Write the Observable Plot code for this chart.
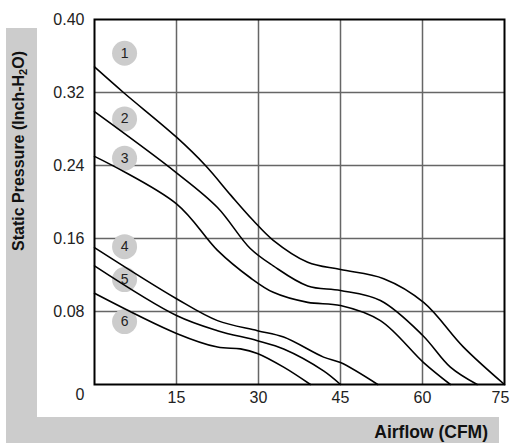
<!DOCTYPE html>
<html>
<head>
<meta charset="utf-8">
<script src="https://cdn.jsdelivr.net/npm/d3@7"></script>
<script src="https://cdn.jsdelivr.net/npm/@observablehq/plot@0.6"></script>
<style>
  html, body { margin: 0; padding: 0; background: #fff; }
  #wrap { position: relative; width: 510px; height: 444px; font-family: "Liberation Sans", Arial, sans-serif; overflow: hidden; }
  .band { position: absolute; background: #cccccc; }
  #chart { position: absolute; left: 0; top: 0; }
  #ytitle { position: absolute; left: 20px; top: 151px; transform: translate(-50%, -50%) rotate(-90deg); white-space: nowrap; font-weight: bold; font-size: 16px; line-height: 1; color: #111; }
  #xtitle { position: absolute; right: 22px; top: 423px; white-space: nowrap; font-weight: bold; font-size: 17.5px; line-height: 1.1; color: #111; }
</style>
</head>
<body>
<div id="wrap">
  <div class="band" style="left:6px; top:28px; width:31px; height:415px;"></div>
  <div class="band" style="left:6px; top:417px; width:493px; height:26px;"></div>
  <div id="chart"></div>
  <div id="ytitle">Static Pressure (Inch-H<sub style="font-size:11px; vertical-align:-3px">2</sub>O)</div>
  <div id="xtitle">Airflow (CFM)</div>
</div>
<script>
const xTicks = [15, 30, 45, 60];
const xLastTick = [75];
const yTicks = [0.08, 0.16, 0.24, 0.32, 0.40];

const airflow1 = [0, 5.3, 15, 20.3, 25, 29, 32.7, 39, 45, 52.9, 60.2, 67.5, 75];
const pressure1 = [0.348, 0.320, 0.271, 0.240, 0.207, 0.180, 0.158, 0.134, 0.126, 0.116, 0.090, 0.041, 0];
const airflow2 = [0, 15, 22.5, 28.5, 32.7, 39, 45, 52.3, 60, 65.1, 70];
const pressure2 = [0.299, 0.232, 0.194, 0.149, 0.130, 0.108, 0.103, 0.092, 0.054, 0.019, 0];
const airflow3 = [0, 15, 22.5, 28.5, 32.7, 39, 45, 52.3, 60.2, 65.1];
const pressure3 = [0.250, 0.198, 0.147, 0.117, 0.101, 0.090, 0.0866, 0.070, 0.024, 0];
const airflow4 = [0, 15, 22.5, 29.8, 34.6, 41.9, 45, 51.8];
const pressure4 = [0.150, 0.094, 0.070, 0.059, 0.052, 0.030, 0.024, 0];
const airflow5 = [0, 15, 22.5, 29.8, 34.6, 41.9, 45];
const pressure5 = [0.130, 0.0756, 0.059, 0.048, 0.039, 0.015, 0];
const airflow6 = [0, 15, 22.5, 26.7, 29.8, 34.6, 39.5];
const pressure6 = [0.100, 0.056, 0.041, 0.039, 0.034, 0.019, 0];

const labelNames = ["1", "2", "3", "4", "5", "6"];
const labelX = [5.5, 5.5, 5.5, 5.5, 5.5, 5.5];
const labelY = [0.363, 0.291, 0.248, 0.151, 0.115, 0.069];

const seriesX = [airflow1, airflow2, airflow3, airflow4, airflow5, airflow6];
const seriesY = [pressure1, pressure2, pressure3, pressure4, pressure5, pressure6];
const curves = seriesX.flatMap((xs, i) => xs.map((x, j) => ({series: labelNames[i], x, y: seriesY[i][j]})));
const labels = labelNames.map((name, i) => ({name, x: labelX[i], y: labelY[i]}));

const plot = Plot.plot({
  width: 510,
  height: 444,
  marginLeft: 94,
  marginRight: 6,
  marginTop: 19,
  marginBottom: 60,
  style: {background: "transparent", fontFamily: "Liberation Sans, Arial, sans-serif", fontSize: "16px", color: "#222", overflow: "visible"},
  x: {domain: [0, 75]},
  y: {domain: [0, 0.40]},
  marks: [
    Plot.rect([0], {x1: 0, x2: 75, y1: 0, y2: 0.40, fill: "white"}),
    Plot.gridX([15, 30, 45, 60], {stroke: "#666", strokeOpacity: 1, strokeWidth: 1.5}),
    Plot.gridY([0.08, 0.16, 0.24, 0.32], {stroke: "#666", strokeOpacity: 1, strokeWidth: 1.5}),
    Plot.axisX(xTicks, {tickSize: 0, tickPadding: 7, label: null, fontSize: 16, fill: "#222"}),
    Plot.axisX(xLastTick, {tickSize: 0, tickPadding: 7, dx: -4, label: null, fontSize: 16, fill: "#222"}),
    Plot.axisY(yTicks, {tickSize: 0, tickPadding: 10, tickFormat: d3.format(".2f"), label: null, fontSize: 16, fill: "#222"}),
    Plot.axisY([0], {tickSize: 0, tickPadding: 10, dy: 10, tickFormat: () => "0", label: null, fontSize: 16, fill: "#222"}),
    Plot.dot(labels, {x: "x", y: "y", r: 12.5, fill: "#cccccc", stroke: null}),
    Plot.text(labels, {x: "x", y: "y", text: "name", fontSize: 14, fill: "#222"}),
    Plot.line(curves, {x: "x", y: "y", z: "series", curve: "catmull-rom", stroke: "black", strokeWidth: 1.6}),
    Plot.frame({stroke: "black", strokeWidth: 2})
  ]
});
document.getElementById("chart").appendChild(plot);
</script>
</body>
</html>
